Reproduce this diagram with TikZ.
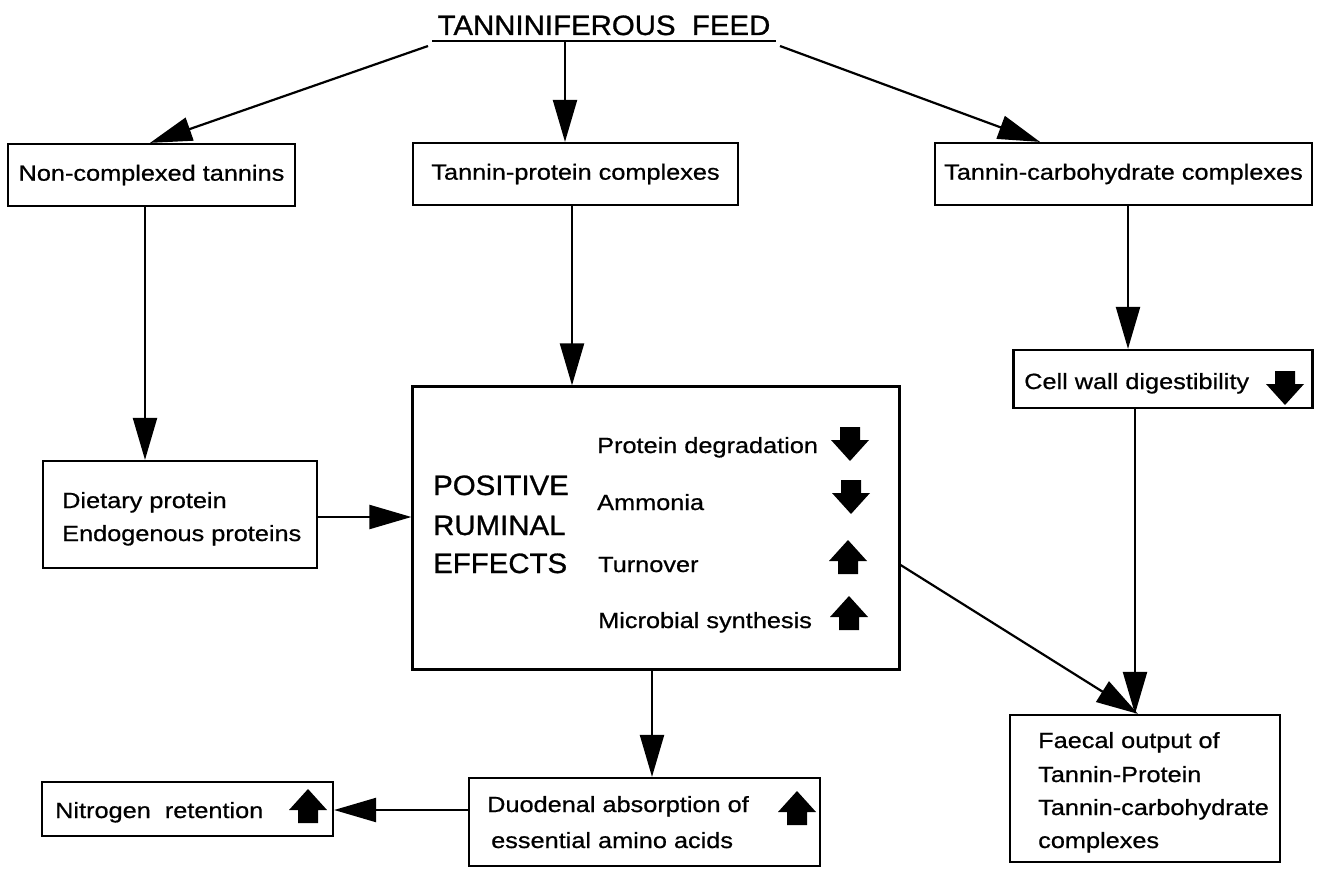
\documentclass[tikz,border=0pt]{standalone}
\usepackage{fontspec}
\setmainfont{Liberation Sans}[FakeStretch=1.15,FakeBold=0.7]
\newfontfamily\bigfont{Liberation Sans}[FakeStretch=1.05,FakeBold=0.9]
\usetikzlibrary{arrows.meta,calc}
\begin{document}
\begin{tikzpicture}[x=1pt,y=-1pt,
  every node/.style={font=\fontsize{22}{33}\selectfont},
  box/.style={draw,line width=2.2pt,inner sep=0pt},
  lbl/.style={anchor=base west,inner sep=0pt},
  big/.style={anchor=base west,inner sep=0pt,font=\bigfont\fontsize{28}{39}\selectfont},
  conn/.style={line width=2.2pt,-{Triangle[length=42pt,width=24pt]}},
  uparr/.pic={\fill (0,-17) -- (19,4) -- (10,4) -- (10,17) -- (-10,17) -- (-10,4) -- (-19,4) -- cycle;},
  dnarr/.pic={\fill (0,17) -- (19,-4) -- (10,-4) -- (10,-17) -- (-10,-17) -- (-10,-4) -- (-19,-4) -- cycle;}
]
\useasboundingbox (0,0) rectangle (1322,872);
\fill[white] (0,0) rectangle (1322,872);

% title
\node[big,anchor=base,font=\bigfont\fontsize{28}{34}\selectfont] (title) at (604,35) {TANNINIFEROUS\ \ FEED};
\coordinate (ul1) at (432,41);
\coordinate (ul2) at (776,41);
\draw[line width=1.8pt] (ul1) -- (ul2);
\coordinate (tl) at (428,46);
\coordinate (tm) at (565,41);
\coordinate (tr) at (780,46);

% boxes
\node[box,minimum width=287,minimum height=62] (b1) at (151.5,175) {Non-complexed tannins};
\node[box,minimum width=325,minimum height=62] (b2) at (575.5,174) {Tannin-protein complexes};
\node[box,minimum width=377,minimum height=62] (b3) at (1123.5,174) {Tannin-carbohydrate complexes};
\node[box,minimum width=274,minimum height=107] (b4) at (180,514.5) {};
\node[box,minimum width=487,minimum height=283] (b5) at (656,528) {};
\node[box,minimum width=299,minimum height=58] (b6) at (1163,379) {};
\node[box,minimum width=270,minimum height=147] (b7) at (1145,788.5) {};
\node[box,minimum width=351,minimum height=88] (b8) at (644.5,822) {};
\node[box,minimum width=291,minimum height=54] (b9) at (187.5,809) {};

% texts
\node[lbl] (t4a) at (62,508) {Dietary protein};
\node[lbl] (t4b) at (62,541) {Endogenous proteins};
\node[big] (t5a) at (433,495) {POSITIVE};
\node[big] (t5b) at (433,535) {RUMINAL};
\node[big] (t5c) at (433,573) {EFFECTS};
\node[lbl] (t5d) at (597,453) {Protein degradation};
\node[lbl] (t5e) at (597,510) {Ammonia};
\node[lbl] (t5f) at (598,572) {Turnover};
\node[lbl] (t5g) at (598,628) {Microbial synthesis};
\node[lbl] (t6) at (1024,389) {Cell wall digestibility};
\node[lbl] (t7a) at (1038,748) {Faecal output of};
\node[lbl] (t7b) at (1038,782) {Tannin-Protein};
\node[lbl] (t7c) at (1038,815) {Tannin-carbohydrate};
\node[lbl] (t7d) at (1038,848) {complexes};
\node[lbl] (t8a) at (487,812) {Duodenal absorption of};
\node[lbl] (t8b) at (491,848) {essential amino acids};
\node[lbl] (t9) at (55,818) {Nitrogen\ \ retention};

% block arrows
\pic at (850,444) {dnarr};
\pic at (851,497) {dnarr};
\pic at (848,557) {uparr};
\pic at (849,613) {uparr};
\pic at (1285,388) {dnarr};
\pic at (308,806) {uparr};
\pic at (797,808) {uparr};

% connectors
\draw[conn] (tl) -- (b1.north -| 150,0);
\draw[conn] (tm) -- (b2.north -| tm);
\draw[conn] (tr) -- (b3.north -| 1040,0);
\draw[conn] (b1.south -| 145,0) -- (b4.north -| 145,0);
\draw[conn] (b2.south -| 572,0) -- (b5.north -| 572,0);
\draw[conn] (b3.south -| 1128,0) -- (b6.north -| 1128,0);
\draw[conn] (b4.east |- 0,517) -- (b5.west |- 0,517);
\draw[conn] (b6.south -| 1135,0) -- (b7.north -| 1135,0);
\draw[conn] (b5.east |- 0,565) -- (b7.north -| 1138,0);
\draw[conn] (b5.south -| 652,0) -- (b8.north -| 652,0);
\draw[conn] (b8.west |- 0,810) -- (b9.east |- 0,810);
\end{tikzpicture}
\end{document}
